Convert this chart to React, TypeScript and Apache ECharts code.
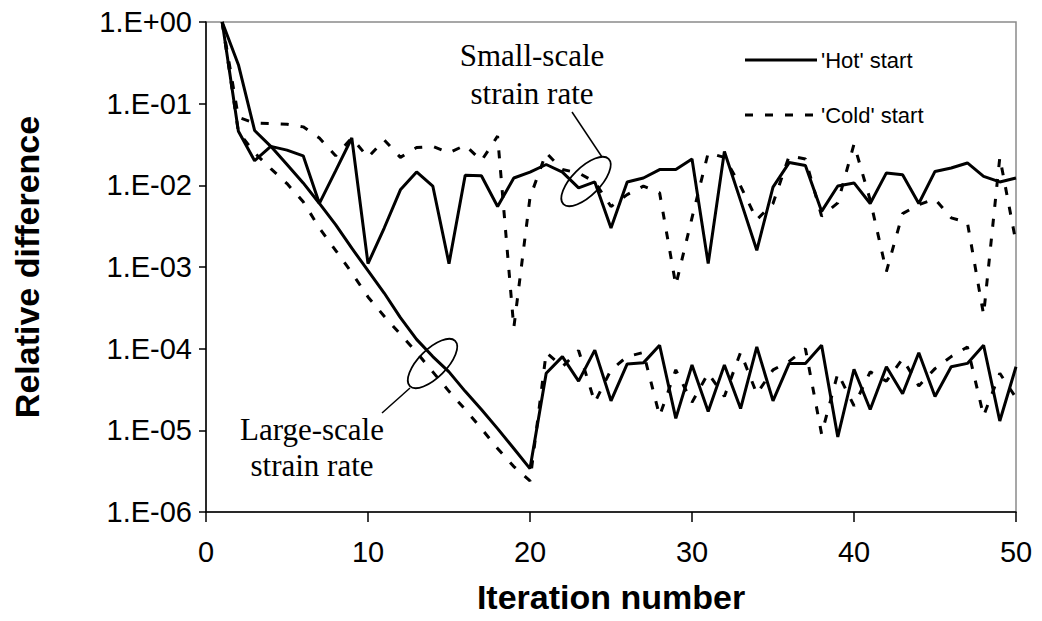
import React, { useEffect, useRef } from "react";
import * as echarts from "echarts";

// Iteration index (x) shared by all four curves
const iterations = [
  1, 2, 3, 4, 5, 6, 7, 8, 9, 10, 11, 12, 13, 14, 15, 16, 17, 18, 19, 20, 21, 22, 23, 24, 25,
  26, 27, 28, 29, 30, 31, 32, 33, 34, 35, 36, 37, 38, 39, 40, 41, 42, 43, 44, 45, 46, 47, 48, 49, 50,
];

// 'Hot' start, small-scale strain rate
const hotSmallScale = [
  1, 0.046, 0.02, 0.03, 0.027, 0.023, 0.006, 0.015, 0.038, 0.0011,
  0.003, 0.0088, 0.0146, 0.0098, 0.0011, 0.0133, 0.0131, 0.0055, 0.0123, 0.0145,
  0.018, 0.0145, 0.0093, 0.011, 0.003, 0.011, 0.0123, 0.0156, 0.0156, 0.021,
  0.0011, 0.026, 0.0065, 0.0016, 0.0095, 0.019, 0.0175, 0.0048, 0.0098, 0.0107,
  0.006, 0.0142, 0.0135, 0.006, 0.0148, 0.0163, 0.0188, 0.0129, 0.011, 0.0123,
];

// 'Hot' start, large-scale strain rate
const hotLargeScale = [
  1, 0.3, 0.047, 0.03, 0.018, 0.0107, 0.006, 0.0033, 0.0017, 0.0009,
  0.00048, 0.00024, 0.00013, 0.00008, 0.000052, 0.00003, 0.000018, 0.0000105, 0.000006, 0.0000034,
  0.00005, 0.00008, 0.00004, 0.000096, 0.000023, 0.000065, 0.000067, 0.00011, 0.000014, 0.000063,
  0.000017, 0.000063, 0.0000185, 0.000105, 0.000023, 0.000066, 0.000066, 0.00011, 0.0000083, 0.000056,
  0.000018, 0.00006, 0.000028, 0.000089, 0.000026, 0.00006, 0.000066, 0.00011, 0.000013, 0.00006,
];

// 'Cold' start, small-scale strain rate
const coldSmallScale = [
  1, 0.068, 0.058, 0.057, 0.056, 0.052, 0.038, 0.023, 0.038, 0.022,
  0.036, 0.022, 0.029, 0.03, 0.025, 0.031, 0.02, 0.04, 0.00018, 0.0071,
  0.025, 0.0156, 0.0142, 0.011, 0.0055, 0.0077, 0.0098, 0.0081, 0.0006, 0.004,
  0.025, 0.022, 0.0098, 0.0038, 0.006, 0.023, 0.021, 0.0042, 0.0061, 0.032,
  0.0066, 0.00088, 0.0045, 0.0058, 0.0068, 0.004, 0.0035, 0.00026, 0.022, 0.002,
];

// 'Cold' start, large-scale strain rate
const coldLargeScale = [
  1, 0.045, 0.025, 0.016, 0.0105, 0.0063, 0.003, 0.0016, 0.00085, 0.00043,
  0.00025, 0.00015, 0.00009, 0.000052, 0.00003, 0.000018, 0.0000105, 0.000006, 0.0000036, 0.0000024,
  0.00009, 0.00006, 0.000095, 0.000022, 0.000055, 0.00008, 0.00009, 0.000015, 0.000055, 0.000022,
  0.00005, 0.000026, 0.00009, 0.000028, 0.000055, 0.00007, 0.0001, 0.000009, 0.00005, 0.00002,
  0.000052, 0.00004, 0.000075, 0.000035, 0.000057, 0.00008, 0.000105, 0.000015, 0.00005, 0.000025,
];

const HOT = "'Hot' start";
const COLD = "'Cold' start";
const DASH = [8, 12];
const SANS = "Liberation Sans, Arial, sans-serif";
const SERIF = "Liberation Serif, Times New Roman, serif";

const toPairs = (values: number[]) => iterations.map((x, i) => [x, values[i]]);

// 1e-3 -> "1.E-03"
const sciLabel = (v: number) => {
  const e = Math.round(Math.log10(v));
  const sign = e >= 0 ? "+" : "-";
  return `1.E${sign}${String(Math.abs(e)).padStart(2, "0")}`;
};

const lineSeries = (name: string, values: number[], dashed: boolean) => ({
  name,
  type: "line",
  data: toPairs(values),
  symbol: "none",
  showSymbol: false,
  lineStyle: { color: "#000", width: 3, type: dashed ? DASH : "solid" },
  itemStyle: { color: "#000" },
});

// Key entry: a short line sample followed by its label
const keyEntry = (label: string, y: number, dashed: boolean) => [
  {
    type: "line",
    shape: { x1: 745, y1: y, x2: 817, y2: y },
    style: { stroke: "#000", lineWidth: 3, lineDash: dashed ? DASH : null },
  },
  {
    type: "text",
    x: 821,
    y,
    style: {
      text: label,
      font: `22px ${SANS}`,
      fill: "#000",
      align: "left",
      verticalAlign: "middle",
      textAlign: "left",
      textVerticalAlign: "middle",
    },
  },
];

const callout = (
  text: string,
  tx: number,
  ty: number,
  lineHeight: number,
  leader: [number, number, number, number],
  ex: number,
  ey: number
) => [
  {
    type: "text",
    x: tx,
    y: ty,
    style: {
      text,
      font: `31px ${SERIF}`,
      fill: "#000",
      align: "center",
      verticalAlign: "middle",
      textAlign: "center",
      textVerticalAlign: "middle",
      lineHeight,
    },
  },
  {
    type: "line",
    shape: { x1: leader[0], y1: leader[1], x2: leader[2], y2: leader[3] },
    style: { stroke: "#000", lineWidth: 1.5 },
  },
  {
    type: "ellipse",
    x: ex,
    y: ey,
    rotation: Math.PI / 4,
    shape: { cx: 0, cy: 0, rx: 32, ry: 14 },
    style: { fill: "none", stroke: "#000", lineWidth: 1.8 },
  },
];

export default function App() {
  const ref = useRef<HTMLDivElement>(null);

  useEffect(() => {
    if (!ref.current) return;
    const chart = echarts.init(ref.current, undefined, { renderer: "svg" });

    chart.setOption({
      animation: false,
      backgroundColor: "#fff",
      grid: {
        left: 206,
        right: 26,
        top: 22,
        bottom: 109,
        show: true,
        borderColor: "#8a8a8a",
        borderWidth: 1.5,
      },
      xAxis: {
        type: "value",
        min: 0,
        max: 50,
        interval: 10,
        name: "Iteration number",
        nameLocation: "middle",
        nameGap: 68,
        nameTextStyle: { fontSize: 34, fontWeight: "bold", fontFamily: SANS, color: "#000" },
        axisLine: { show: true, onZero: false, lineStyle: { color: "#000", width: 1.5 } },
        axisTick: { show: true, length: 10, lineStyle: { color: "#000", width: 1.5 } },
        splitLine: { show: false },
        axisLabel: { color: "#000", fontSize: 29, fontFamily: SANS, margin: 25 },
      },
      yAxis: {
        type: "log",
        logBase: 10,
        min: 1e-6,
        max: 1,
        splitNumber: 6,
        name: "Relative difference",
        nameLocation: "middle",
        nameGap: 162,
        nameTextStyle: { fontSize: 34, fontWeight: "bold", fontFamily: SANS, color: "#000" },
        axisLine: { show: true, lineStyle: { color: "#000", width: 1.5 } },
        axisTick: { show: true, length: 7, lineStyle: { color: "#000", width: 1.5 } },
        minorTick: { show: false },
        splitLine: { show: false },
        axisLabel: {
          color: "#000",
          fontSize: 29,
          fontFamily: SANS,
          margin: 14,
          formatter: (v: number) => sciLabel(v),
        },
      },
      series: [
        lineSeries(HOT, hotSmallScale, false),
        lineSeries(HOT, hotLargeScale, false),
        lineSeries(COLD, coldSmallScale, true),
        lineSeries(COLD, coldLargeScale, true),
      ],
      graphic: [
        ...keyEntry(HOT, 60, false),
        ...keyEntry(COLD, 115, true),
        ...callout("Small-scale\nstrain rate", 532, 74, 38, [572, 112, 602, 157], 586, 181.5),
        ...callout("Large-scale\nstrain rate", 312, 447, 36, [382, 413, 410, 388], 432.5, 363.5),
      ],
    });

    return () => chart.dispose();
  }, []);

  return (
    <div
      ref={ref}
      style={{ position: "fixed", left: 0, top: 0, width: 1042, height: 621, background: "#fff" }}
    />
  );
}
